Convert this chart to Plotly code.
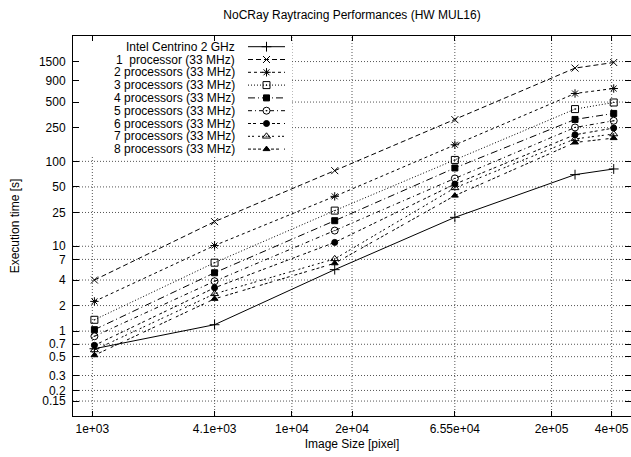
import math
import plotly.graph_objects as go

# ---------------- data ----------------
image_size = [1024, 4096, 16384, 65536, 262144, 409600]
series_names = [
    "Intel Centrino 2 GHz",
    "1\u00a0 processor (33 MHz)",
    "2 processors (33 MHz)",
    "3 processors (33 MHz)",
    "4 processors (33 MHz)",
    "5 processors (33 MHz)",
    "6 processors (33 MHz)",
    "7 processors (33 MHz)",
    "8 processors (33 MHz)",
]
intel = [0.62, 1.19, 5.3, 21.9, 69.8, 81.4]
proc1 = [4.0, 19.5, 77.8, 310, 1256, 1462]
proc2 = [2.24, 10.2, 38.7, 157, 631, 722]
proc3 = [1.36, 6.4, 26.3, 104, 413, 494]
proc4 = [1.04, 4.87, 20.0, 83.6, 312, 367]
proc5 = [0.87, 3.87, 15.3, 63, 251, 301]
proc6 = [0.68, 3.24, 11.1, 54, 206, 247]
proc7 = [0.60, 2.75, 7.1, 48.7, 184, 210]
proc8 = [0.52, 2.4, 6.3, 39.5, 167, 188]
series_values = [intel, proc1, proc2, proc3, proc4, proc5, proc6, proc7, proc8]

x_tickvals = [1000, 4100, 10000, 20000, 65500, 200000, 400000]
x_ticktext = ["1e+03", "4.1e+03", "1e+04", "2e+04", "6.55e+04", "2e+05", "4e+05"]
y_tickvals = [0.15, 0.2, 0.3, 0.5, 0.7, 1, 2, 4, 7, 10, 25, 50, 100, 250, 500, 900, 1500]
y_ticktext = ["0.15", "0.2", "0.3", "0.5", "0.7", "1", "2", "4", "7", "10", "25", "50",
              "100", "250", "500", "900", "1500"]

# ---------------- styles / layout constants ----------------
W, H = 631, 457
ML, MR, MT, MB = 73, 0, 36, 41
FONT = "Liberation Sans, Arial, Helvetica, sans-serif"
X_RANGE = [math.log10(800), math.log10(500000)]
Y_RANGE = [math.log10(0.1), math.log10(3000)]
plot_w = W - ML - MR
plot_h = H - MT - MB
GRID = dict(color="#555555", width=1, dash="1px,2px")


def px_to_x(px):
    return 10 ** (X_RANGE[0] + (px - ML) / plot_w * (X_RANGE[1] - X_RANGE[0]))


def py_to_y(py):
    return 10 ** (Y_RANGE[0] + (H - MB - py) / plot_h * (Y_RANGE[1] - Y_RANGE[0]))


dashes = ["solid", "5px,3px", "3px,3px", "1px,2px", "7px,3px,1px,3px",
          "4px,3px,1px,3px", "3px,2px,3px,4px", "2px,2px,2px,4px",
          "3px,2px,3px,2px,3px,5px"]
symbols = ["cross-thin", "x-thin", "asterisk", "square-open-dot", "square",
           "circle-open-dot", "circle", "triangle-up-open-dot", "triangle-up"]
sizes = [7, 7, 7, 7, 6, 7, 6, 7, 6]

fig = go.Figure()

for name, vals, d, s, sz in zip(series_names, series_values, dashes, symbols, sizes):
    fig.add_trace(go.Scatter(
        x=image_size, y=vals, mode="lines+markers", name=name,
        line=dict(color="black", width=1, dash=d),
        marker=dict(symbol=s, size=sz, color="black",
                    line=dict(color="black", width=1)),
        showlegend=False, cliponaxis=False,
    ))

# ---------------- grid lines (drawn below traces) ----------------
for xv in x_tickvals:
    fig.add_shape(type="line", xref="x", yref="y domain", x0=xv, x1=xv, y0=0, y1=1,
                  line=GRID, layer="below")
for yv in y_tickvals:
    fig.add_shape(type="line", xref="x domain", yref="y", x0=0, x1=1, y0=yv, y1=yv,
                  line=GRID, layer="below")

# opaque key background (covers grid, like gnuplot)
fig.add_shape(
    type="rect", xref="x", yref="y",
    x0=px_to_x(ML), x1=px_to_x(292), y0=py_to_y(155), y1=py_to_y(MT),
    fillcolor="white", line=dict(width=0), layer="below",
)

# ---------------- gnuplot-style key (text left, sample right) ----------------
key_top = 46.7
key_step = 12.8
key_text_right = 237
key_x0, key_x1 = 248, 285
for i, (name, d, s, sz) in enumerate(zip(series_names, dashes, symbols, sizes)):
    yk = py_to_y(key_top + key_step * i)
    fig.add_trace(go.Scatter(
        x=[px_to_x(key_x0), px_to_x(key_x1)], y=[yk, yk], mode="lines",
        line=dict(color="black", width=1, dash=d),
        showlegend=False, hoverinfo="skip",
    ))
    fig.add_trace(go.Scatter(
        x=[px_to_x((key_x0 + key_x1) / 2)], y=[yk], mode="markers",
        marker=dict(symbol=s, size=sz, color="black",
                    line=dict(color="black", width=1)),
        showlegend=False, hoverinfo="skip",
    ))
    fig.add_annotation(
        x=math.log10(px_to_x(key_text_right)), y=math.log10(yk),
        xref="x", yref="y", text=name,
        showarrow=False, xanchor="right", yanchor="middle",
        font=dict(family=FONT, size=12, color="black"),
    )

axis_common = dict(
    showline=True, linecolor="black", linewidth=1, mirror="allticks",
    ticks="inside", tickcolor="black", tickwidth=1,
    showgrid=False, zeroline=False,
    tickfont=dict(family=FONT, size=12, color="black"),
    automargin=False,
)

fig.update_layout(
    width=W, height=H,
    margin=dict(l=ML, r=MR, t=MT, b=MB),
    paper_bgcolor="white", plot_bgcolor="white",
    font=dict(family=FONT, size=12, color="black"),
    title=dict(text="NoCRay Raytracing Performances (HW MUL16)",
               x=0.5, xref="paper", xanchor="center",
               y=1 - 15 / H, yanchor="middle",
               font=dict(family=FONT, size=12, color="black")),
    xaxis=dict(type="log", range=X_RANGE,
               tickmode="array", tickvals=x_tickvals, ticktext=x_ticktext,
               ticklen=5, ticklabelstandoff=2,
               title=dict(text="Image Size [pixel]", standoff=4,
                          font=dict(family=FONT, size=12, color="black")),
               **axis_common),
    yaxis=dict(type="log", range=Y_RANGE,
               tickmode="array", tickvals=y_tickvals, ticktext=y_ticktext,
               ticklen=6, ticklabelstandoff=4,
               title=dict(text="Execution time [s]", standoff=16,
                          font=dict(family=FONT, size=12, color="black")),
               **axis_common),
    showlegend=False,
)

fig.write_html(
    "out.html",
    config={"displayModeBar": False},
    post_script="document.body.style.margin='0';document.body.style.padding='0';",
)
